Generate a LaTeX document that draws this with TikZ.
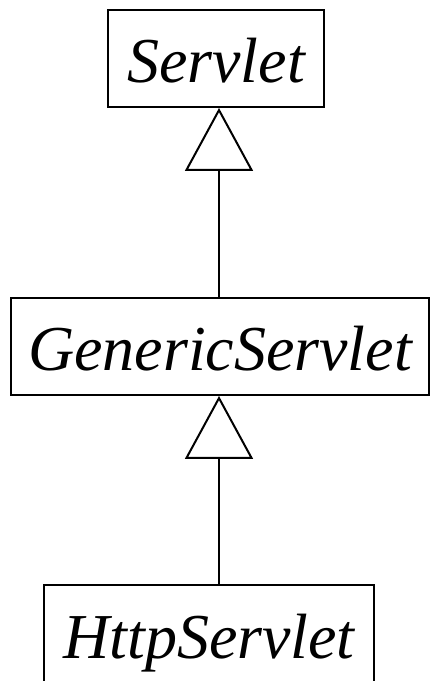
\documentclass[tikz,border=0pt]{standalone}
\usepackage{fontspec}
\setmainfont{Liberation Serif}
\usetikzlibrary{arrows.meta}
\tikzset{
  classbox/.style={draw, line width=2pt, minimum height=97pt, inner sep=0pt,
    text height=56pt, text depth=7pt, font=\fontsize{64}{76}\selectfont\itshape},
  inherits/.style={line width=2pt,
    -{Triangle[open, length=63pt, width=68pt, line width=2pt]}}
}

\begin{document}
\begin{tikzpicture}[x=1pt,y=1pt]
  \useasboundingbox (0,0) rectangle (431,681);
  \clip (0,0) rectangle (431,681);
  % class boxes
  \node[classbox, minimum width=216pt] (servlet) at (216,622.5) {Servlet};
  \node[classbox, minimum width=418pt] (generic) at (220,334.5) {GenericServlet};
  \node[classbox, minimum width=330pt] (http) at (209,47) {HttpServlet};
  % generalisation arrows
  \draw[inherits] (generic.north -| 219,0) -- (servlet.south -| 219,0);
  \draw[inherits] (http.north -| 219,0) -- (generic.south -| 219,0);
\end{tikzpicture}
\end{document}
